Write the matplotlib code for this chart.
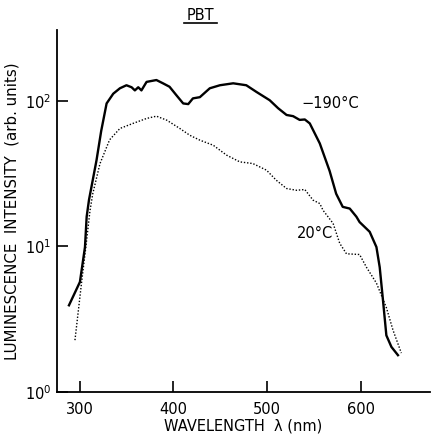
import matplotlib
matplotlib.use("Agg")
import matplotlib.pyplot as plt

# -190 C curve (solid)
wl_cold = [288.6, 300.3, 305.7, 307.5, 310, 318, 323, 328.8, 335.9, 343, 350, 355.5, 359,
           362.6, 366, 371.5, 382, 389, 396, 403.5, 410.6, 416, 421, 428.4, 439,
           449.8, 464, 478, 489, 503, 512, 521, 528, 535, 540.5, 545.8, 556.5, 567,
           574, 581, 588.5, 595.6, 599, 609.8, 617, 620.5, 624, 627.6, 633, 640]
int_cold = [3.94, 5.7, 9.9, 16, 20.9, 39, 62, 96, 112, 122, 128, 124, 118,
            124, 118, 135, 139, 132, 125, 109, 96, 95, 104, 106, 122,
            128, 132, 128, 115, 101, 89, 80, 78.5, 74, 74.5, 70, 51, 33,
            23, 18.7, 18.2, 16, 14.7, 12.6, 9.9, 7.2, 4.27, 2.45, 2.04, 1.79]

# 20 C curve (dotted)
wl_warm = [295, 302, 306.7, 311, 314, 321.7, 332, 343, 357, 371.5, 382, 393, 407,
           417.7, 428.4, 442.6, 456.9, 471, 485, 499.6, 510, 521, 531.6, 540.5,
           549.3, 556.5, 560, 570.7, 577.8, 585, 599, 606.3, 617, 627.6, 634.7, 643.6]
int_warm = [2.27, 5.6, 10, 17.5, 23, 37, 54, 64.6, 70, 75.7, 78.5, 73.7, 64.6,
            58, 53.7, 49.6, 42.4, 38.1, 37.1, 33.4, 28.5, 25, 24.3, 24.6,
            20.8, 19.7, 17.7, 14.4, 10.5, 8.9, 8.8, 7.2, 5.6, 3.8, 2.66, 1.85]

x_ticks = [300, 400, 500, 600]
y_ticks = [1, 10, 100]
y_tick_labels = ["$10^0$", "$10^1$", "$10^2$"]

plt.rcParams['font.family'] = ['DejaVu Sans']
plt.rcParams['mathtext.fontset'] = 'dejavusans'

fig = plt.figure(figsize=(4.33, 4.37), dpi=100)
ax = fig.add_axes([0.1316, 0.103, 0.861, 0.828])

ax.plot(wl_cold, int_cold, color='black', lw=1.7)
ax.plot(wl_warm, int_warm, color='black', lw=1.0, ls=(0, (1, 1.3)))

ax.set_yscale('log')
ax.set_xlim(275.8, 674)
ax.set_ylim(1, 306)
ax.set_xticks(x_ticks)
ax.set_xticklabels([str(t) for t in x_ticks])
ax.set_yticks(y_ticks)
ax.set_yticklabels(y_tick_labels)
ax.minorticks_off()
ax.tick_params(direction='in', length=8, width=1.2, labelsize=10.5)
ax.tick_params(axis='x', pad=7)
ax.tick_params(axis='y', pad=4)

for s in ['top', 'right']:
    ax.spines[s].set_visible(False)
for s in ['left', 'bottom']:
    ax.spines[s].set_linewidth(1.3)

ax.text(568, 96, "\u2212190\u00b0C", fontsize=10.5, ha='center', va='center')
ax.text(551, 12.3, "20\u00b0C", fontsize=10.5, ha='center', va='center')

ax.set_xlabel("WAVELENGTH  \u03bb (nm)", fontsize=10.5, labelpad=1)
ax.set_ylabel("LUMINESCENCE  INTENSITY  (arb. units)", fontsize=10.8, labelpad=4)

fig.text(200 / 433, 1 - 16 / 437, "PBT", fontsize=10.5, ha='center', va='center')
fig.add_artist(plt.Line2D([184 / 433, 217 / 433], [1 - 23 / 437, 1 - 23 / 437],
                          color='black', lw=1.2))

fig.savefig('out.png', dpi=100)
